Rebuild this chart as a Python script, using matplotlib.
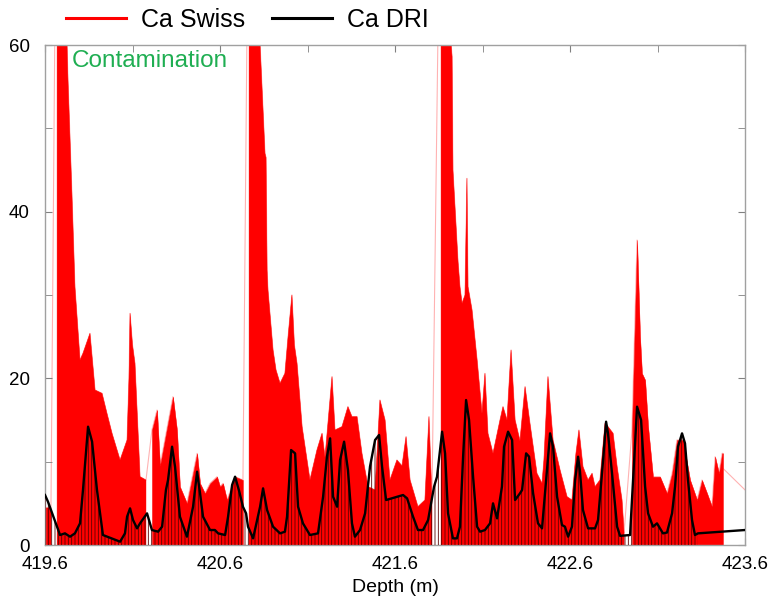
import numpy as np
import matplotlib
matplotlib.use('Agg')
import matplotlib.pyplot as plt
from matplotlib.lines import Line2D
from matplotlib.ticker import MultipleLocator

plt.rcParams['font.family'] = ['Liberation Sans', 'DejaVu Sans']
plt.rcParams['hatch.linewidth'] = 0.6

# Ca Swiss (high resolution, drawn as envelope blocks between data gaps)
swiss_depth_a = [419.600, 419.634]
swiss_ca_a = [4.5, 4.5]

swiss_depth_b = [419.669, 419.703, 419.726, 419.731, 419.754, 419.771, 419.800, 419.817,
                 419.857, 419.886, 419.926, 419.954, 419.983, 420.029, 420.069, 420.080,
                 420.086, 420.100, 420.114, 420.143, 420.177]
swiss_ca_b = [95, 85, 60, 56, 42, 31, 22.2, 23, 25.4, 18.6, 18.2, 15.8, 13.4, 10.2, 12.6, 20,
              27.8, 24, 21.8, 8.2, 7.8]

swiss_depth_c = [420.211, 420.240, 420.257, 420.297, 420.331, 420.354, 420.371, 420.411,
                 420.469, 420.486, 420.514, 420.543, 420.583, 420.600, 420.617, 420.640,
                 420.657, 420.686, 420.731]
swiss_ca_c = [13.8, 16.2, 9.5, 14, 17.8, 13.8, 7, 5, 11, 7.4, 6.2, 7.4, 8.2, 7, 7.4, 5.4, 6.4,
              8.2, 7.8]

swiss_depth_d = [420.766, 420.800, 420.829, 420.857, 420.863, 420.869, 420.874, 420.903,
                 420.920, 420.943, 420.971, 420.989, 421.011, 421.025, 421.040, 421.069,
                 421.114, 421.154, 421.183, 421.200, 421.240, 421.257, 421.297, 421.331,
                 421.354, 421.383, 421.411, 421.446, 421.486, 421.514, 421.543, 421.571,
                 421.611, 421.640, 421.663, 421.686, 421.731, 421.771, 421.794, 421.811]
swiss_ca_d = [90, 85, 60, 47, 46.5, 33, 30.6, 23.4, 21, 19.4, 20.6, 25, 30, 24, 21.8, 14.2,
              7.8, 11.4, 13.4, 10.5, 20.2, 13.8, 14.2, 16.6, 15.4, 15.4, 11, 7, 6.6, 17.4, 15,
              7.8, 10.2, 9.5, 13, 7.8, 4.6, 5.4, 15.4, 5.5]

swiss_depth_e = [421.863, 421.903, 421.926, 421.931, 421.960, 421.971, 421.983, 422.000,
                 422.011, 422.017, 422.040, 422.069, 422.097, 422.114, 422.131, 422.160,
                 422.200, 422.217, 422.240, 422.263, 422.286, 422.314, 422.343, 422.371,
                 422.411, 422.440, 422.451, 422.474, 422.503, 422.543, 422.583, 422.611,
                 422.634, 422.651, 422.674, 422.703, 422.726, 422.743, 422.771, 422.800,
                 422.817, 422.846, 422.869, 422.897, 422.909]
swiss_ca_e = [90, 65, 58.6, 45, 34, 31, 29, 30, 44, 31, 28.2, 22.2, 15.8, 20.6, 13.4, 11, 15,
              16.6, 15, 23.4, 15, 12.5, 19, 14.6, 8.6, 7.4, 10.2, 20.2, 12.6, 9, 5.8, 5.4, 11,
              13.8, 9.4, 7.8, 8.6, 7, 7.8, 14.6, 14.2, 13.4, 9.4, 5.4, 1.5]

swiss_depth_f = [422.954, 422.983, 423.000, 423.011, 423.029, 423.046, 423.074, 423.114,
                 423.154, 423.183, 423.211, 423.246, 423.286, 423.326, 423.354, 423.383,
                 423.411, 423.429, 423.451, 423.469, 423.474]
swiss_ca_f = [13.8, 36.6, 25, 20.6, 19.8, 14.2, 8.2, 8.2, 6.2, 8.6, 12.6, 12.6, 7.8, 5.4, 7.8,
              6.2, 4.6, 10.6, 8.6, 11, 11]

swiss_tail_depth = [423.474, 423.62]
swiss_tail_ca = [9.2, 6.2]

# Ca DRI
dri_depth = [419.600, 419.617, 419.686, 419.714, 419.743, 419.771, 419.800, 419.817, 419.846,
             419.869, 419.897, 419.931, 420.029, 420.057, 420.069, 420.086, 420.103, 420.126,
             420.143, 420.183, 420.211, 420.246, 420.269, 420.291, 420.303, 420.326, 420.343,
             420.371, 420.411, 420.446, 420.469, 420.486, 420.503, 420.543, 420.571, 420.589,
             420.629, 420.646, 420.669, 420.686, 420.709, 420.731, 420.749, 420.760, 420.789,
             420.829, 420.846, 420.869, 420.903, 420.943, 420.971, 420.983, 421.006, 421.029,
             421.046, 421.074, 421.114, 421.160, 421.189, 421.211, 421.229, 421.246, 421.269,
             421.286, 421.309, 421.331, 421.354, 421.371, 421.400, 421.429, 421.457, 421.486,
             421.509, 421.526, 421.549, 421.646, 421.669, 421.703, 421.731, 421.760, 421.789,
             421.823, 421.840, 421.869, 421.886, 421.903, 421.931, 421.954, 421.971, 421.989,
             422.006, 422.023, 422.046, 422.069, 422.086, 422.114, 422.143, 422.160, 422.183,
             422.211, 422.223, 422.246, 422.269, 422.286, 422.314, 422.326, 422.349, 422.366,
             422.389, 422.417, 422.440, 422.457, 422.486, 422.503, 422.526, 422.554, 422.571,
             422.589, 422.611, 422.629, 422.646, 422.657, 422.674, 422.703, 422.743, 422.760,
             422.789, 422.806, 422.817, 422.840, 422.869, 422.886, 422.943, 422.960, 422.983,
             423.006, 423.029, 423.046, 423.074, 423.097, 423.114, 423.131, 423.154, 423.183,
             423.200, 423.217, 423.240, 423.257, 423.274, 423.297, 423.314, 423.331, 423.600]
dri_ca = [6.0, 5.2, 1.2, 1.4, 1.0, 1.4, 2.6, 6.6, 14.2, 12.4, 6.6, 1.2, 0.4, 1.4, 3.4, 4.4, 3.0,
          2.0, 2.6, 3.8, 1.8, 1.6, 2.2, 6.6, 7.8, 11.8, 9.4, 3.4, 1.0, 4.6, 8.8, 6.2, 3.4, 1.8,
          1.8, 1.4, 1.2, 3.4, 7.2, 8.2, 6.5, 4.6, 3.8, 2.2, 0.8, 4.6, 6.8, 4.2, 2.2, 1.4, 1.6,
          3.4, 11.4, 11.0, 4.6, 2.6, 1.2, 1.4, 5.8, 10.6, 12.8, 5.8, 4.6, 10.2, 12.4, 9.0, 2.6,
          1.0, 1.8, 3.8, 9.4, 12.6, 13.2, 9.4, 5.4, 6.0, 5.6, 3.4, 1.8, 1.8, 3.0, 7.0, 8.2, 13.6,
          11.0, 3.8, 0.8, 0.8, 2.2, 10.6, 17.4, 15.0, 8.2, 2.2, 1.6, 1.8, 2.6, 5.0, 3.2, 7.0,
          11.8, 13.6, 12.6, 5.4, 6.2, 6.6, 11.0, 10.6, 6.2, 2.6, 2.0, 6.2, 13.4, 11.8, 5.8, 2.4,
          2.2, 1.0, 2.2, 7.8, 10.6, 8.8, 4.2, 2.0, 2.0, 3.0, 10.2, 14.8, 13.4, 8.6, 2.2, 1.1,
          1.2, 7.8, 16.6, 15.0, 7.0, 3.8, 2.2, 2.6, 2.0, 1.4, 1.5, 3.8, 7.0, 11.8, 13.4, 12.2,
          7.8, 3.0, 1.2, 1.4, 1.8]

x_ticks = [419.6, 420.6, 421.6, 422.6, 423.6]
x_minor = [420.1, 421.1, 422.1, 423.1]

swiss_depths = [swiss_depth_a, swiss_depth_b, swiss_depth_c, swiss_depth_d, swiss_depth_e, swiss_depth_f]
swiss_values = [swiss_ca_a, swiss_ca_b, swiss_ca_c, swiss_ca_d, swiss_ca_e, swiss_ca_f]

fig = plt.figure(figsize=(7.68, 5.98), dpi=100)
ax = fig.add_axes([0.0586, 0.0886, 0.9115, 0.8361])

# thin connecting line through the gaps
all_d = np.concatenate(swiss_depths + [swiss_tail_depth])
all_v = np.concatenate(swiss_values + [swiss_tail_ca])
ax.plot(all_d, all_v, color='#ff0000', lw=0.8, alpha=0.3, zorder=1)

for d, v in zip(swiss_depths, swiss_values):
    ax.fill_between(d, 0, v, facecolor='#ff0000', edgecolor='#ff0000', lw=0.3, zorder=2)

dd = np.array(dri_depth)
ax.fill_between(dd, 0, dri_ca, where=dd <= swiss_depth_f[-1], interpolate=True,
                facecolor='none', edgecolor='#5a0000', hatch='|||||', lw=0, zorder=3)
ax.plot(dri_depth, dri_ca, color='black', lw=1.7, zorder=4)

ax.set_xlim(419.6, 423.6)
ax.set_ylim(0, 60)
ax.set_xticks(x_ticks)
ax.set_xticklabels([f'{t:.1f}' for t in x_ticks])
ax.set_xticks(x_minor, minor=True)
ax.yaxis.set_major_locator(MultipleLocator(20))
ax.yaxis.set_minor_locator(MultipleLocator(10))
ax.tick_params(which='both', direction='in', top=True, right=True, color='#808080',
               labelsize=13.5, length=5)
ax.tick_params(axis='x', pad=8)
ax.tick_params(axis='y', pad=11)
for s in ax.spines.values():
    s.set_color('#a0a0a0')
    s.set_linewidth(1.0)
ax.set_xlabel('Depth (m)', fontsize=14, labelpad=4)

ax.text(0.038, 0.99, 'Contamination', transform=ax.transAxes, color='#1fae52',
        fontsize=17.5, va='top', ha='left')

handles = [Line2D([], [], color='#ff0000', lw=2.2), Line2D([], [], color='black', lw=2.2)]
fig.legend(handles, ['Ca Swiss', 'Ca DRI'], loc='upper left', bbox_to_anchor=(0.056, 1.025),
           ncol=2, frameon=False, fontsize=18, handlelength=2.4, handletextpad=0.6,
           columnspacing=1.1)

fig.savefig('out.png', dpi=100)
